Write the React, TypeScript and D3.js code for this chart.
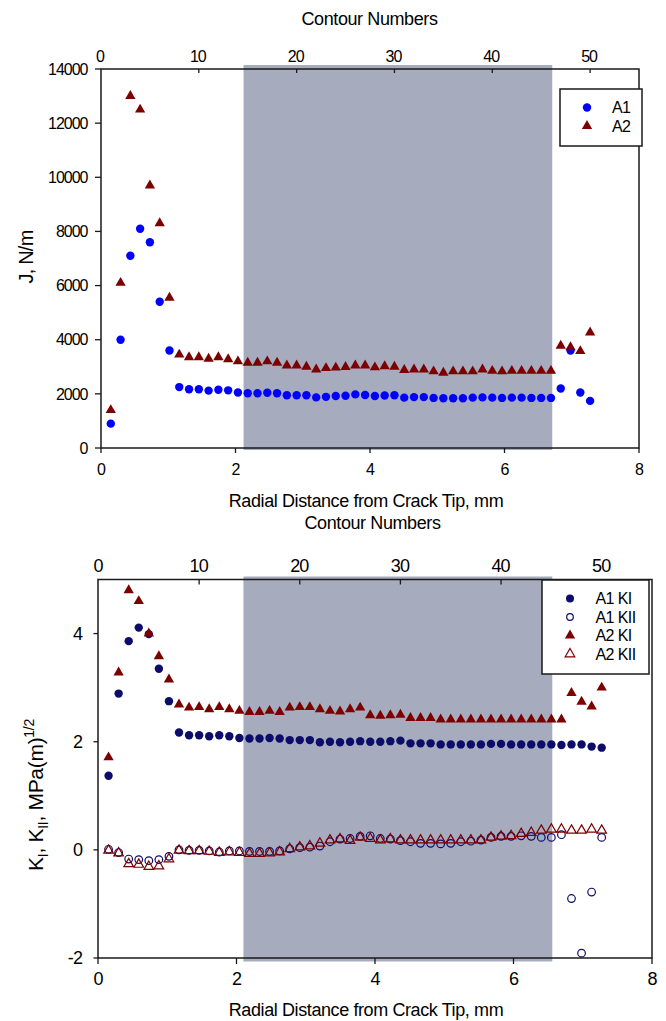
import React from 'react';
import * as d3 from 'd3';

const contours = [1,2,3,4,5,6,7,8,9,10,11,12,13,14,15,16,17,18,19,20,21,22,23,24,25,26,27,28,29,30,31,32,33,34,35,36,37,38,39,40,41,42,43,44,45,46,47,48,49,50];

const jA1 = [900,4000,7100,8100,7600,5400,3600,2250,2170,2170,2120,2150,2130,2050,2020,2020,2040,2020,1950,1950,1950,1870,1890,1920,1930,1980,1960,1920,1940,1950,1860,1880,1880,1850,1840,1840,1840,1860,1870,1860,1850,1860,1860,1850,1850,1850,2200,3600,2050,1740];
const jA2 = [1400,6100,13000,12500,9700,8300,5550,3450,3350,3350,3300,3350,3280,3200,3150,3150,3200,3150,3050,3050,3000,2900,2950,2970,2990,3050,3050,2980,3020,3000,2880,2900,2900,2830,2780,2830,2830,2830,2900,2850,2830,2850,2850,2850,2850,2850,3780,3720,3580,4270];

const kiA1 = [1.37,2.89,3.86,4.11,3.99,3.35,2.75,2.17,2.12,2.12,2.10,2.12,2.10,2.07,2.06,2.06,2.07,2.06,2.03,2.03,2.03,1.99,2.00,1.99,2.00,2.01,2.00,2.00,2.01,2.02,1.97,1.97,1.97,1.95,1.95,1.95,1.95,1.95,1.96,1.96,1.95,1.95,1.95,1.95,1.95,1.94,1.95,1.95,1.91,1.89];
const kiiA1 = [0.01,-0.05,-0.17,-0.18,-0.20,-0.18,-0.12,0.00,-0.01,-0.01,-0.02,-0.04,-0.02,-0.02,-0.03,-0.03,-0.03,-0.02,0.02,0.04,0.05,0.07,0.15,0.20,0.21,0.25,0.26,0.21,0.20,0.17,0.15,0.12,0.12,0.11,0.12,0.15,0.16,0.18,0.23,0.25,0.25,0.26,0.25,0.23,0.23,0.28,-0.90,-1.91,-0.78,0.23];
const kiA2 = [1.71,3.28,4.80,4.60,4.00,3.58,3.15,2.69,2.63,2.64,2.60,2.64,2.60,2.57,2.55,2.55,2.57,2.55,2.63,2.64,2.64,2.60,2.57,2.56,2.60,2.63,2.49,2.48,2.49,2.50,2.44,2.44,2.44,2.41,2.41,2.41,2.41,2.41,2.41,2.41,2.41,2.41,2.41,2.41,2.41,2.41,2.90,2.74,2.65,3.00];
const kiiA2 = [-0.01,-0.06,-0.26,-0.27,-0.31,-0.30,-0.17,-0.01,-0.02,-0.02,-0.03,-0.05,-0.04,-0.05,-0.07,-0.07,-0.06,-0.04,0.02,0.05,0.07,0.12,0.18,0.20,0.17,0.23,0.21,0.18,0.20,0.18,0.18,0.18,0.18,0.18,0.18,0.18,0.18,0.18,0.23,0.25,0.26,0.30,0.32,0.36,0.38,0.38,0.36,0.36,0.38,0.36];

const jTicks = [0,2000,4000,6000,8000,10000,12000,14000];
const kTicks = [-2,0,2,4];
const mmTicks = [0,2,4,6,8];
const contourTicks = [0,10,20,30,40,50];
const topShade = [2.12, 6.71];
const botShade = [2.10, 6.56];

const FONT = 'Liberation Sans, Arial, sans-serif';
const AX = '#1a1a1a';
const BLUE = '#0000ff';
const RED = '#7d0000';
const NAVY = '#0c0c6a';
const SHADE = '#a6abbe';

const tri = d3.symbol().type(d3.symbolTriangle).size(46)();
const triOpen = d3.symbol().type(d3.symbolTriangle).size(40)();

function TopChart() {
  const x0 = 101, x1 = 639, y0 = 69, y1 = 448;
  const xc = d3.scaleLinear().domain([0, 55]).range([x0, x1]);
  const xm = d3.scaleLinear().domain([0, 8]).range([x0, x1]);
  const y = d3.scaleLinear().domain([0, 14000]).range([y1, y0]);
  return (
    <g fontFamily={FONT} fill="#000">
      <rect x={xm(topShade[0])} y={y0 - 4} width={xm(topShade[1]) - xm(topShade[0])} height={y1 - y0 + 6} fill={SHADE} />
      {contours.map((c, i) => (
        <circle key={'a' + i} cx={xc(c)} cy={y(jA1[i])} r={4.2} fill={BLUE} />
      ))}
      {contours.map((c, i) => (
        <path key={'b' + i} d={tri} transform={`translate(${xc(c)},${y(jA2[i])})`} fill={RED} />
      ))}
      <rect x={x0} y={y0} width={x1 - x0} height={y1 - y0} fill="none" stroke={AX} strokeWidth={1.5} />
      {jTicks.map(t => (
        <g key={'yt' + t}>
          <line x1={x0 - 6} x2={x0} y1={y(t)} y2={y(t)} stroke={AX} strokeWidth={1.3} />
          <text x={87.5} y={y(t)} dy="0.36em" textAnchor="end" fontSize={16} letterSpacing={-1}>{t}</text>
        </g>
      ))}
      {mmTicks.map(t => (
        <g key={'xt' + t}>
          <line x1={xm(t)} x2={xm(t)} y1={y1} y2={y1 + 5} stroke={AX} strokeWidth={1.3} />
          <text x={xm(t)} y={475} textAnchor="middle" fontSize={16} letterSpacing={-1}>{t}</text>
        </g>
      ))}
      {contourTicks.map(t => (
        <g key={'ct' + t}>
          {t > 0 && <line x1={xc(t)} x2={xc(t)} y1={y0} y2={y0 + 4} stroke={AX} strokeWidth={1.3} />}
          <text x={xc(t) - 1} y={61.5} textAnchor="middle" fontSize={16} letterSpacing={-1}>{t}</text>
        </g>
      ))}
      <text x={369.5} y={25} textAnchor="middle" fontSize={18} letterSpacing={-0.4}>Contour Numbers</text>
      <text x={366} y={507} textAnchor="middle" fontSize={18} letterSpacing={-0.4}>Radial Distance from Crack Tip, mm</text>
      <text transform="translate(33,257) rotate(-90)" textAnchor="middle" fontSize={20} letterSpacing={-0.8}>J, N/m</text>
      <g>
        <rect x={560} y={89} width={82} height={57} fill="#fff" stroke={AX} strokeWidth={1.5} />
        <circle cx={587} cy={107.5} r={4.2} fill={BLUE} />
        <path d={tri} transform="translate(587,126)" fill={RED} />
        <text x={612} y={107.5} dy="0.36em" fontSize={16} letterSpacing={-0.6}>A1</text>
        <text x={612} y={126} dy="0.36em" fontSize={16} letterSpacing={-0.6}>A2</text>
      </g>
    </g>
  );
}

function BottomChart() {
  const x0 = 98, x1 = 652, y0 = 579.5, y1 = 958;
  const xc = d3.scaleLinear().domain([0, 55]).range([x0 + 0.5, x1]);
  const xm = d3.scaleLinear().domain([0, 8]).range([x0, x1]);
  const y = d3.scaleLinear().domain([-2, 5]).range([y1, y0]);
  const legend = [
    { label: 'A1 KI', kind: 'fc' },
    { label: 'A1 KII', kind: 'oc' },
    { label: 'A2 KI', kind: 'ft' },
    { label: 'A2 KII', kind: 'ot' },
  ];
  const rows = [598.5, 617, 635.5, 654];
  return (
    <g fontFamily={FONT} fill="#000">
      <rect x={xm(botShade[0])} y={y0 - 3} width={xm(botShade[1]) - xm(botShade[0])} height={y1 - y0 + 6.5} fill={SHADE} />
      {contours.map((c, i) => (
        <circle key={'oc' + i} cx={xc(c)} cy={y(kiiA1[i])} r={3.8} fill="none" stroke={NAVY} strokeWidth={1.2} />
      ))}
      {contours.map((c, i) => (
        <path key={'ot' + i} d={triOpen} transform={`translate(${xc(c)},${y(kiiA2[i])})`} fill="none" stroke={RED} strokeWidth={1.2} />
      ))}
      {contours.map((c, i) => (
        <circle key={'fc' + i} cx={xc(c)} cy={y(kiA1[i])} r={4.2} fill={NAVY} />
      ))}
      {contours.map((c, i) => (
        <path key={'ft' + i} d={tri} transform={`translate(${xc(c)},${y(kiA2[i])})`} fill={RED} />
      ))}
      <rect x={x0} y={y0} width={x1 - x0} height={y1 - y0} fill="none" stroke={AX} strokeWidth={1.5} />
      {kTicks.map(t => (
        <g key={'yt' + t}>
          <line x1={x0 - 4.5} x2={x0} y1={y(t)} y2={y(t)} stroke={AX} strokeWidth={1.3} />
          <text x={82} y={y(t)} dy="0.36em" textAnchor="end" fontSize={18} letterSpacing={-0.9}>{t}</text>
        </g>
      ))}
      {mmTicks.map(t => (
        <g key={'xt' + t}>
          <line x1={xm(t)} x2={xm(t)} y1={y1} y2={y1 + 6} stroke={AX} strokeWidth={1.3} />
          <text x={xm(t)} y={985} textAnchor="middle" fontSize={18} letterSpacing={-0.9}>{t}</text>
        </g>
      ))}
      {contourTicks.map(t => (
        <g key={'ct' + t}>
          {t > 0 && <line x1={xc(t)} x2={xc(t)} y1={y0} y2={y0 + 5} stroke={AX} strokeWidth={1.3} />}
          <text x={xc(t) - 0.5} y={571.5} textAnchor="middle" fontSize={18} letterSpacing={-0.9}>{t}</text>
        </g>
      ))}
      <text x={372.5} y={529} textAnchor="middle" fontSize={18} letterSpacing={-0.4}>Contour Numbers</text>
      <text x={366} y={1016} textAnchor="middle" fontSize={18} letterSpacing={-0.4}>Radial Distance from Crack Tip, mm</text>
      <text transform="translate(43,795) rotate(-90)" textAnchor="middle" fontSize={21} letterSpacing={-0.3}>
        K<tspan fontSize={14} dy="5">I</tspan><tspan dy="-5">, K</tspan><tspan fontSize={14} dy="5">II</tspan><tspan dy="-5">, MPa(m)</tspan><tspan fontSize={14} dy="-9">1/2</tspan>
      </text>
      <g>
        <rect x={542} y={580} width={107} height={94} fill="#fff" stroke={AX} strokeWidth={1.5} />
        {legend.map((l, i) => (
          <g key={l.label}>
            {l.kind === 'fc' && <circle cx={570} cy={rows[i]} r={4} fill={NAVY} />}
            {l.kind === 'oc' && <circle cx={570} cy={rows[i]} r={3.3} fill="none" stroke={NAVY} strokeWidth={1.2} />}
            {l.kind === 'ft' && <path d={tri} transform={`translate(570,${rows[i]})`} fill={RED} />}
            {l.kind === 'ot' && <path d={triOpen} transform={`translate(570,${rows[i]})`} fill="none" stroke={RED} strokeWidth={1.2} />}
            <text x={595.5} y={rows[i]} dy="0.36em" fontSize={16} letterSpacing={-0.6}>{l.label}</text>
          </g>
        ))}
      </g>
    </g>
  );
}

export default function App() {
  return (
    <svg width={666} height={1021} style={{ position: 'absolute', left: 0, top: 0, background: '#fff' }}>
      <rect width={666} height={1021} fill="#fff" />
      <TopChart />
      <BottomChart />
    </svg>
  );
}
